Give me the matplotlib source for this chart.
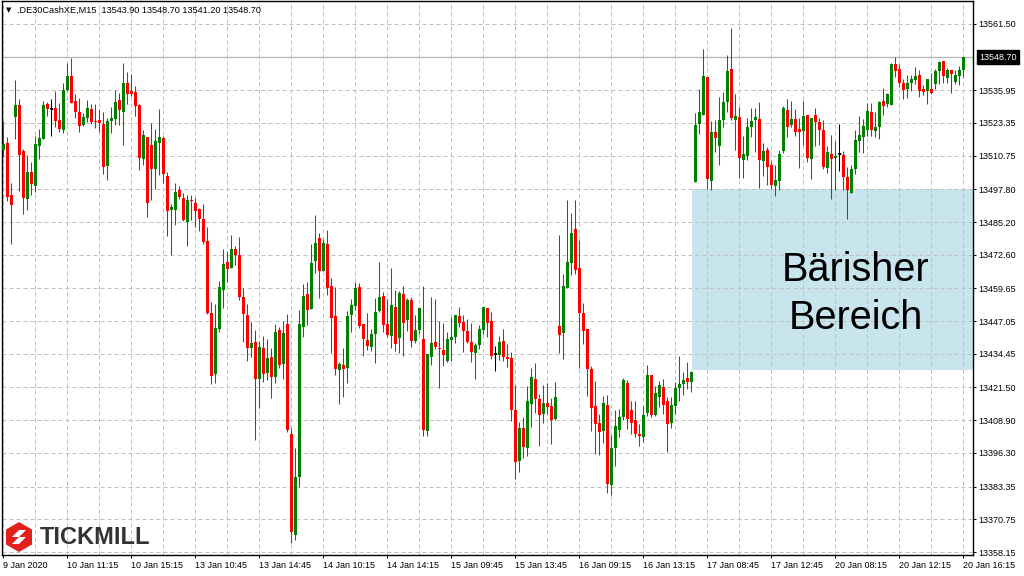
import matplotlib
matplotlib.use("Agg")
import matplotlib.pyplot as plt
from matplotlib.patches import Rectangle, RegularPolygon, Polygon
import numpy as np

plt.rcParams['font.family'] = ['Liberation Sans', 'DejaVu Sans']

# DE30 M15 candles (open, high, low, close)
opens = [
    13513.0, 13515.6, 13495.6, 13525.7, 13530.3, 13512.6, 13494.1, 13504.5, 13499.1, 13514.5,
    13517.2, 13530.7, 13528.7, 13529.1, 13524.5, 13520.7, 13536.1, 13541.4, 13531.8, 13527.6,
    13522.6, 13525.3, 13528.7, 13524.1, 13524.5, 13523.0, 13506.8, 13524.1, 13524.9, 13532.2,
    13527.6, 13538.7, 13535.7, 13535.3, 13530.3, 13509.5, 13518.0, 13514.9, 13505.6, 13515.6,
    13517.6, 13502.9, 13489.9, 13489.9, 13497.6, 13494.5, 13485.2, 13493.7, 13492.5, 13490.2,
    13486.4, 13477.9, 13450.2, 13426.7, 13444.0, 13459.1, 13469.8, 13467.5, 13474.8, 13472.5,
    13456.4, 13449.4, 13436.7, 13439.0, 13424.8, 13436.7, 13427.1, 13433.2, 13425.5, 13443.7,
    13430.6, 13446.0, 13403.6, 13364.7, 13387.1, 13444.8, 13457.5, 13451.7, 13470.2, 13479.1,
    13466.4, 13476.8, 13460.6, 13449.0, 13428.3, 13430.2, 13429.0, 13449.4, 13452.9, 13460.2,
    13446.0, 13439.8, 13437.1, 13442.1, 13451.0, 13456.7, 13446.0, 13441.3, 13452.5, 13440.6,
    13457.5, 13447.5, 13455.2, 13439.4, 13443.7, 13440.2, 13404.8, 13433.2, 13439.0, 13436.7,
    13436.0, 13431.7, 13439.8, 13441.0, 13449.0, 13446.7, 13443.3, 13439.0, 13434.8, 13437.9,
    13443.7, 13452.1, 13447.1, 13434.4, 13434.0, 13439.4, 13433.2, 13432.9, 13412.9, 13393.2,
    13405.9, 13398.2, 13415.2, 13424.8, 13417.1, 13411.3, 13415.5, 13414.4, 13409.4, 13445.2,
    13442.5, 13459.8, 13469.4, 13482.5, 13467.5, 13450.2, 13444.0, 13428.6, 13414.4, 13407.8,
    13404.8, 13414.8, 13384.0, 13398.2, 13405.2, 13410.2, 13423.2, 13412.9, 13409.0, 13403.6,
    13402.5, 13411.7, 13426.3, 13410.9, 13417.9, 13421.7, 13416.3, 13407.8, 13414.4, 13421.3,
    13422.9, 13425.2, 13423.6, 13500.6, 13523.0, 13526.4, 13541.1, 13501.0, 13519.9, 13514.5,
    13524.5, 13531.4, 13544.1, 13524.5, 13525.7, 13509.1, 13510.6, 13521.8, 13524.5, 13524.9,
    13508.7, 13513.0, 13507.2, 13499.1, 13501.0, 13512.6, 13528.4, 13522.6, 13524.9, 13521.0,
    13520.3, 13526.4, 13509.5, 13526.4, 13523.7, 13520.7, 13506.0, 13511.4, 13509.9, 13511.4,
    13511.0, 13502.5, 13496.4, 13505.6, 13516.4, 13517.9, 13520.7, 13527.6, 13520.3, 13521.8,
    13531.8, 13530.7, 13530.3, 13546.1, 13544.1, 13538.7, 13536.4, 13538.7, 13539.9, 13541.8,
    13536.4, 13535.7, 13536.4, 13538.4, 13543.4, 13547.2, 13540.7, 13543.8, 13539.1, 13541.4,
    13543.9,
]
highs = [
    13524.1, 13518.0, 13500.2, 13539.9, 13532.6, 13513.3, 13511.0, 13508.3, 13518.3, 13521.0,
    13531.8, 13531.4, 13532.6, 13535.7, 13531.0, 13538.7, 13546.4, 13548.4, 13534.5, 13533.0,
    13527.2, 13532.2, 13530.7, 13530.7, 13528.7, 13527.6, 13525.3, 13529.5, 13536.1, 13534.9,
    13546.4, 13543.0, 13542.2, 13537.6, 13530.7, 13520.7, 13518.0, 13523.3, 13521.0, 13528.7,
    13518.3, 13504.5, 13492.2, 13500.2, 13499.1, 13496.4, 13495.6, 13495.6, 13494.5, 13490.6,
    13492.2, 13483.3, 13454.4, 13453.7, 13462.5, 13474.8, 13473.7, 13480.2, 13476.0, 13479.5,
    13459.8, 13453.7, 13446.7, 13443.7, 13439.4, 13441.3, 13440.2, 13436.7, 13446.0, 13444.8,
    13447.1, 13449.8, 13405.9, 13398.2, 13451.4, 13461.4, 13462.1, 13476.8, 13487.9, 13481.0,
    13478.7, 13482.2, 13463.7, 13460.2, 13431.3, 13436.7, 13451.0, 13455.6, 13462.1, 13461.7,
    13446.0, 13450.2, 13444.0, 13456.0, 13469.8, 13458.3, 13455.6, 13467.5, 13459.1, 13458.7,
    13460.6, 13456.0, 13456.4, 13449.4, 13452.1, 13460.6, 13434.4, 13456.4, 13455.6, 13447.1,
    13446.3, 13442.9, 13448.7, 13449.4, 13452.5, 13449.4, 13447.9, 13446.3, 13438.6, 13445.6,
    13452.5, 13452.1, 13450.6, 13437.5, 13441.3, 13444.0, 13438.3, 13435.2, 13422.5, 13408.2,
    13410.2, 13422.1, 13429.0, 13430.9, 13419.0, 13422.5, 13423.2, 13417.5, 13423.6, 13480.2,
    13465.2, 13493.7, 13488.7, 13493.7, 13478.3, 13454.0, 13444.0, 13429.8, 13424.0, 13411.3,
    13418.2, 13418.6, 13403.2, 13412.9, 13413.2, 13425.2, 13424.4, 13416.3, 13416.3, 13407.5,
    13414.4, 13430.2, 13426.3, 13422.1, 13424.0, 13424.8, 13417.9, 13417.9, 13423.6, 13433.6,
    13427.5, 13431.3, 13427.9, 13527.2, 13536.4, 13551.8, 13541.1, 13524.1, 13524.5, 13533.4,
    13535.3, 13549.5, 13559.9, 13534.5, 13529.5, 13518.3, 13525.3, 13529.1, 13529.1, 13531.4,
    13515.6, 13514.1, 13508.7, 13507.2, 13513.0, 13529.9, 13532.6, 13531.8, 13528.7, 13525.3,
    13531.8, 13526.4, 13525.3, 13529.1, 13525.3, 13524.5, 13514.5, 13518.7, 13516.4, 13523.0,
    13512.6, 13506.4, 13507.2, 13520.7, 13526.0, 13524.9, 13531.0, 13531.0, 13527.6, 13531.8,
    13536.8, 13534.9, 13546.4, 13548.8, 13546.1, 13540.3, 13541.8, 13541.8, 13544.9, 13543.7,
    13538.0, 13540.3, 13542.6, 13544.1, 13547.2, 13547.2, 13544.5, 13543.8, 13543.8, 13545.3,
    13548.7,
]
lows = [
    13510.3, 13493.3, 13476.8, 13517.2, 13497.2, 13488.3, 13489.9, 13495.6, 13496.8, 13509.5,
    13517.2, 13526.0, 13518.3, 13521.8, 13519.9, 13519.5, 13535.7, 13531.0, 13525.3, 13519.9,
    13522.2, 13523.7, 13523.0, 13521.4, 13519.9, 13503.7, 13501.4, 13519.5, 13522.6, 13522.6,
    13514.9, 13530.7, 13533.7, 13526.0, 13505.3, 13507.2, 13487.2, 13493.7, 13497.9, 13503.3,
    13500.2, 13479.8, 13472.5, 13484.1, 13494.1, 13485.6, 13476.0, 13486.0, 13483.3, 13481.8,
    13476.8, 13449.8, 13422.9, 13423.2, 13442.9, 13452.1, 13462.1, 13467.5, 13468.7, 13455.2,
    13439.0, 13431.7, 13433.2, 13401.3, 13413.6, 13423.6, 13424.4, 13417.5, 13423.2, 13429.0,
    13424.8, 13404.4, 13361.6, 13362.8, 13383.2, 13441.0, 13445.6, 13451.7, 13465.6, 13456.0,
    13466.4, 13457.1, 13434.8, 13426.3, 13415.2, 13417.9, 13423.2, 13442.9, 13451.4, 13444.4,
    13433.6, 13436.0, 13435.6, 13430.9, 13450.6, 13442.9, 13441.0, 13436.7, 13435.6, 13434.8,
    13433.6, 13443.3, 13437.1, 13438.6, 13442.1, 13402.8, 13402.8, 13430.2, 13436.3, 13421.3,
    13429.8, 13431.3, 13431.7, 13438.6, 13444.8, 13435.2, 13438.6, 13431.3, 13424.8, 13436.3,
    13442.1, 13441.0, 13432.5, 13427.9, 13432.1, 13431.7, 13429.4, 13408.6, 13386.3, 13389.0,
    13394.4, 13395.1, 13406.3, 13411.7, 13399.0, 13407.8, 13411.3, 13399.8, 13409.0, 13434.8,
    13432.5, 13459.8, 13464.8, 13465.2, 13429.0, 13438.3, 13418.2, 13404.8, 13395.9, 13395.5,
    13400.2, 13380.9, 13380.1, 13391.3, 13402.5, 13409.0, 13405.5, 13403.6, 13402.5, 13399.0,
    13400.5, 13410.5, 13410.2, 13410.5, 13414.0, 13411.3, 13396.7, 13405.9, 13411.3, 13416.3,
    13418.6, 13420.9, 13419.8, 13500.6, 13519.1, 13526.4, 13497.9, 13497.6, 13512.2, 13507.2,
    13521.8, 13527.6, 13524.5, 13513.0, 13502.2, 13502.2, 13509.1, 13518.0, 13512.2, 13498.3,
    13502.9, 13499.5, 13497.9, 13495.2, 13497.6, 13511.8, 13518.0, 13521.8, 13518.3, 13506.0,
    13514.9, 13508.3, 13501.8, 13514.5, 13514.9, 13505.6, 13504.1, 13494.1, 13497.6, 13504.9,
    13497.6, 13486.4, 13496.4, 13503.7, 13512.2, 13511.8, 13518.3, 13518.3, 13518.0, 13517.2,
    13526.4, 13529.5, 13530.3, 13541.1, 13537.2, 13532.6, 13533.0, 13535.7, 13538.4, 13533.4,
    13534.1, 13530.7, 13534.5, 13536.4, 13538.4, 13538.7, 13538.7, 13534.9, 13538.4, 13538.0,
    13541.2,
]
closes = [
    13515.3, 13494.9, 13491.8, 13530.3, 13511.0, 13494.5, 13504.5, 13499.9, 13515.3, 13517.6,
    13530.3, 13528.7, 13528.7, 13524.1, 13521.0, 13536.1, 13541.4, 13531.0, 13527.6, 13522.2,
    13525.7, 13529.1, 13523.7, 13523.7, 13523.3, 13506.4, 13524.1, 13525.3, 13531.4, 13528.4,
    13538.7, 13534.5, 13534.5, 13529.9, 13509.9, 13518.7, 13492.5, 13505.6, 13516.4, 13518.0,
    13503.7, 13489.5, 13491.0, 13496.8, 13494.9, 13486.0, 13493.7, 13493.3, 13489.5, 13486.4,
    13477.5, 13450.2, 13425.9, 13444.4, 13460.2, 13469.1, 13467.1, 13474.8, 13472.5, 13456.4,
    13449.8, 13436.7, 13438.6, 13424.8, 13437.1, 13426.7, 13432.9, 13425.5, 13442.9, 13430.2,
    13442.5, 13405.2, 13365.9, 13387.1, 13446.0, 13456.7, 13451.4, 13469.5, 13477.1, 13466.4,
    13477.1, 13459.8, 13448.3, 13428.6, 13430.6, 13428.6, 13449.0, 13453.3, 13459.8, 13445.2,
    13440.2, 13437.5, 13442.1, 13450.6, 13456.4, 13445.6, 13441.7, 13453.3, 13438.3, 13457.9,
    13446.3, 13455.2, 13439.4, 13443.7, 13452.1, 13405.2, 13434.4, 13438.6, 13437.1, 13436.3,
    13434.0, 13440.2, 13441.0, 13449.4, 13446.3, 13443.3, 13439.0, 13435.2, 13437.9, 13444.0,
    13452.5, 13446.3, 13433.6, 13434.4, 13439.0, 13433.2, 13432.5, 13412.9, 13392.8, 13405.9,
    13398.6, 13416.3, 13425.5, 13417.1, 13410.9, 13415.5, 13414.0, 13409.0, 13417.9, 13441.7,
    13460.6, 13469.8, 13481.0, 13466.8, 13450.2, 13443.3, 13428.6, 13413.6, 13407.5, 13404.4,
    13415.5, 13384.4, 13398.2, 13406.7, 13410.2, 13424.4, 13409.4, 13407.8, 13403.6, 13402.8,
    13410.9, 13426.3, 13410.9, 13419.4, 13422.5, 13414.8, 13407.5, 13414.8, 13421.3, 13422.9,
    13424.4, 13423.6, 13427.5, 13522.6, 13527.6, 13541.4, 13501.8, 13519.9, 13517.6, 13524.5,
    13531.4, 13543.4, 13525.3, 13526.0, 13509.9, 13511.4, 13521.8, 13524.1, 13525.7, 13509.1,
    13512.6, 13506.4, 13499.5, 13501.4, 13511.4, 13529.1, 13521.8, 13524.9, 13519.9, 13519.9,
    13526.0, 13509.9, 13525.3, 13523.7, 13520.7, 13506.4, 13512.2, 13509.5, 13510.6, 13511.4,
    13502.5, 13497.6, 13505.6, 13516.8, 13518.7, 13522.2, 13528.0, 13520.7, 13521.8, 13531.4,
    13529.9, 13534.5, 13546.1, 13543.4, 13538.7, 13536.1, 13538.7, 13540.3, 13541.4, 13535.7,
    13535.3, 13540.3, 13534.9, 13543.4, 13546.8, 13541.4, 13543.8, 13542.2, 13541.8, 13543.8,
    13548.7,
]

time_labels = ['9 Jan 2020', '10 Jan 11:15', '10 Jan 15:15', '13 Jan 10:45', '13 Jan 14:45',
               '14 Jan 10:15', '14 Jan 14:15', '15 Jan 09:45', '15 Jan 13:45', '16 Jan 09:15',
               '16 Jan 13:15', '17 Jan 08:45', '17 Jan 12:45', '20 Jan 08:15', '20 Jan 12:15',
               '20 Jan 16:15']
price_ticks = [13561.50, 13535.95, 13523.35, 13510.75, 13497.80, 13485.20, 13472.60, 13459.65,
               13447.05, 13434.45, 13421.50, 13408.90, 13396.30, 13383.35, 13370.75, 13358.15]
last_price = 13548.70
header = '.DE30CashXE,M15  13543.90 13548.70 13541.20 13548.70'

# zone of the "Bärisher Bereich" box (candle index / price)
zone_x = (172.2, 242.5)
zone_y = (13428.3, 13497.9)

o = np.array(opens); h = np.array(highs); l = np.array(lows); c = np.array(closes)
x = np.arange(len(o))
cols = np.where(c > o, '#008000', np.where(c < o, '#ff0000', '#000000'))

fig = plt.figure(figsize=(10.24, 5.76), dpi=100)
ax = fig.add_axes([2 / 1024, 21 / 576, 971 / 1024, 554 / 576])
ax.set_xlim(-0.325, 242.425)
ax.set_ylim(13357.0, 13570.3)

ax.add_patch(Rectangle((zone_x[0], zone_y[0]), zone_x[1] - zone_x[0], zone_y[1] - zone_y[0],
                       facecolor='#c8e5ed', edgecolor='none', zorder=1))

grid_kw = dict(color='#c0c0c0', linewidth=0.72, linestyle=(0, (4, 3)), zorder=1.5)
for gx in range(0, 241, 8):
    ax.axvline(gx, **grid_kw)
for gy in price_ticks + [13548.85]:
    ax.axhline(gy, **grid_kw)
ax.axhline(last_price, color='#b4b4b4', linewidth=0.9, zorder=2)

ax.vlines(x, l, h, colors=cols, linewidth=0.75, zorder=3)
body = np.maximum(np.abs(c - o), 0.4)
ax.bar(x, body, bottom=np.minimum(o, c), width=0.72, color=cols, linewidth=0, zorder=4)
doji = c == o
ax.hlines(o[doji], x[doji] - 0.45, x[doji] + 0.45, colors='black', linewidth=0.8, zorder=4)

ax.set_xticks(x[::16])
ax.set_xticklabels(time_labels, ha='left', fontsize=6.5)
ax.yaxis.tick_right()
ax.set_yticks(price_ticks)
ax.set_yticklabels([f'{p:.2f}' for p in price_ticks], fontsize=6.5)
ax.tick_params(axis='both', direction='out', length=2.5, width=0.7, colors='black', pad=1.5)
for s in ax.spines.values():
    s.set_color('black')
    s.set_linewidth(1.0)

ax.annotate(f'{last_price:.2f}', xy=(1, last_price), xycoords=('axes fraction', 'data'),
            xytext=(4.5, 0), textcoords='offset points', ha='left', va='center',
            color='white', fontsize=6.5, annotation_clip=False,
            bbox=dict(boxstyle='square,pad=0.25', fc='black', ec='black'), zorder=10)

ax.text((zone_x[0] + zone_x[1]) / 2 + 5.7, 13457.5, 'Bärisher\nBereich', ha='center', va='center',
        fontsize=28.5, linespacing=1.33, color='black', zorder=6)

# header and logo in pixel space
ov = fig.add_axes([0, 0, 1, 1], facecolor='none')
ov.set_xlim(0, 1024)
ov.set_ylim(576, 0)
ov.axis('off')
ov.text(6, 10, '▼', fontsize=5, va='center', ha='left', family=['DejaVu Sans'])
ov.text(17, 10, header, fontsize=6.6, va='center', ha='left')

ov.add_patch(RegularPolygon((19, 537), numVertices=6, radius=15, orientation=0,
                            facecolor='#e3211c', edgecolor='none'))
ov.add_patch(Polygon([[12, 537], [19, 530], [26, 530], [19, 537]], closed=True,
                     facecolor='white', edgecolor='none'))
ov.add_patch(Polygon([[26, 537], [19, 544], [12, 544], [19, 537]], closed=True,
                     facecolor='white', edgecolor='none'))
ov.text(40, 538, 'TICKMILL', fontsize=17, fontweight='bold', color='#333333',
        va='center', ha='left')

fig.savefig('out.png', dpi=100)
